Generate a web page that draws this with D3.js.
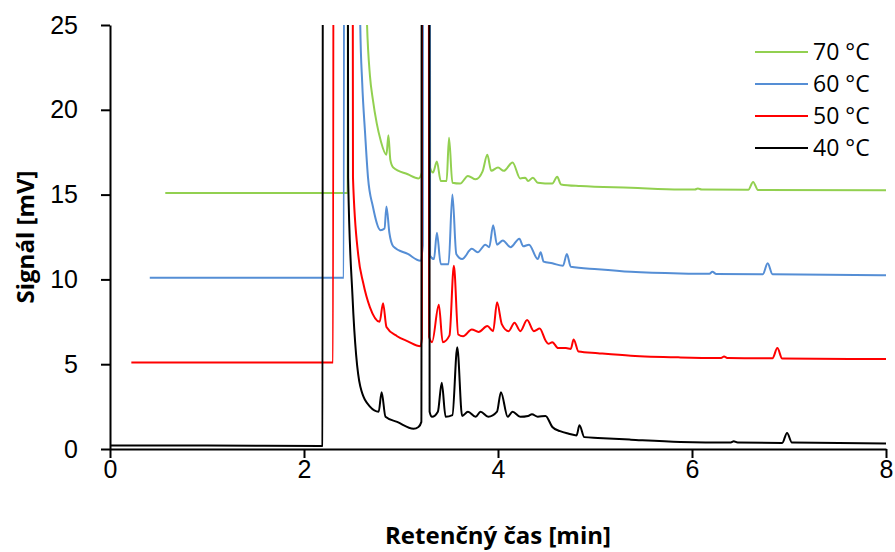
<!DOCTYPE html>
<html>
<head>
<meta charset="utf-8">
<script src="https://cdn.jsdelivr.net/npm/d3@7"></script>
<style>
  body { margin: 0; background: #fff; }
  svg { display: block; font-family: "Open Sans", "Noto Sans", sans-serif; }
  .axis path, .axis line { stroke: #000; stroke-width: 2; }
  .axis text { font-size: 25px; fill: #000; }
  .axis-label { font-size: 24px; font-weight: bold; fill: #000; }
  .legend text { font-size: 23px; fill: #000; }
</style>
</head>
<body>
<div id="chart-area"><svg></svg></div>
<script>
const chartSize = { width: 895, height: 552 };
const margin = { left: 110, right: 9, top: 25, bottom: 103 };
const width = chartSize.width - margin.left - margin.right;
const height = chartSize.height - margin.top - margin.bottom;

const labels = ["70 °C", "60 °C", "50 °C", "40 °C"];
const colors = ["#92D050", "#558ED5", "#FF0000", "#000000"];
const xTicks = [0, 2, 4, 6, 8];
const yTicks = [0, 5, 10, 15, 20, 25];

// [time min, signal mV]; off-scale peaks are clipped at 25
const trace40 = [
  [0, 0.2], [1.0, 0.2], [2.18, 0.18], [2.19, 0.2], [2.2, 90], [2.44, 90], [2.455, 16],
  [2.5, 9.0], [2.58, 3.7], [2.68, 2.5], [2.77, 2.2], [2.8, 3.35], [2.84, 1.9], [2.96, 1.6],
  [3.13, 1.2], [3.18, 1.3], [3.21, 1.6], [3.22, 90], [3.285, 90], [3.295, 2.2], [3.32, 1.9],
  [3.38, 2.2], [3.42, 3.9], [3.46, 1.9], [3.53, 2.0], [3.58, 6.0], [3.63, 1.95], [3.69, 2.2],
  [3.77, 1.9], [3.82, 2.2], [3.9, 1.9], [3.99, 2.2], [4.03, 3.35], [4.1, 1.9], [4.15, 2.2],
  [4.23, 1.9], [4.31, 1.95], [4.35, 2.05], [4.41, 1.9], [4.49, 1.95], [4.56, 1.3], [4.64, 1.05],
  [4.73, 0.9], [4.81, 0.8], [4.84, 1.4], [4.89, 0.7], [5.03, 0.65], [5.37, 0.55], [5.88, 0.42],
  [6.4, 0.38], [6.43, 0.45], [6.47, 0.38], [6.93, 0.36], [6.98, 0.95], [7.03, 0.38], [8.0, 0.33]
];
const trace50 = [
  [0.22, 5.1], [1.3, 5.1], [2.3, 5.1], [2.31, 90], [2.49, 90], [2.505, 16], [2.56, 11.4],
  [2.61, 9.8], [2.68, 8.35], [2.78, 7.5], [2.815, 8.6], [2.85, 7.2], [2.96, 6.65], [3.07, 6.35],
  [3.2, 6.06], [3.215, 6.5], [3.22, 90], [3.28, 90], [3.29, 6.6], [3.32, 6.3], [3.39, 8.5],
  [3.43, 6.3], [3.5, 6.7], [3.545, 10.8], [3.59, 6.75], [3.64, 6.65], [3.73, 7.05], [3.8, 6.9],
  [3.89, 7.25], [3.95, 6.95], [3.99, 8.65], [4.04, 7.35], [4.11, 6.95], [4.17, 7.45], [4.23, 6.95],
  [4.3, 7.6], [4.37, 6.95], [4.43, 7.1], [4.49, 6.4], [4.52, 6.2], [4.56, 6.3], [4.62, 5.95],
  [4.7, 5.95], [4.75, 5.9], [4.78, 6.45], [4.83, 5.75], [5.03, 5.65], [5.37, 5.5], [5.88, 5.4],
  [6.3, 5.37], [6.33, 5.45], [6.37, 5.36], [6.83, 5.35], [6.88, 5.95], [6.93, 5.33], [8.0, 5.3]
];
const trace60 = [
  [0.41, 10.1], [1.5, 10.1], [2.41, 10.1], [2.42, 90], [2.555, 90], [2.57, 30], [2.58, 25],
  [2.6, 21.6], [2.63, 18.6], [2.66, 16.0], [2.71, 14.3], [2.79, 12.9], [2.83, 13.0], [2.85, 14.3],
  [2.88, 12.75], [2.92, 11.95], [3.07, 11.5], [3.2, 11.1], [3.225, 12], [3.23, 90], [3.29, 90],
  [3.3, 11.4], [3.34, 11.2], [3.37, 12.75], [3.41, 10.9], [3.49, 10.9], [3.53, 15.0], [3.57, 11.5],
  [3.63, 11.2], [3.73, 11.8], [3.79, 11.6], [3.87, 12.05], [3.91, 11.9], [3.95, 13.2], [3.99, 12.05],
  [4.05, 12.3], [4.13, 11.9], [4.22, 12.4], [4.26, 11.95], [4.32, 12.05], [4.41, 11.2], [4.44, 11.6],
  [4.47, 11.05], [4.56, 10.95], [4.67, 10.8], [4.71, 11.5], [4.75, 10.75], [5.03, 10.6], [5.37, 10.45],
  [5.88, 10.35], [6.18, 10.33], [6.21, 10.45], [6.25, 10.32], [6.73, 10.3], [6.78, 10.95],
  [6.83, 10.3], [8.0, 10.25]
];
const trace70 = [
  [0.57, 15.1], [1.5, 15.1], [2.45, 15.1], [2.46, 90], [2.62, 90], [2.64, 27], [2.65, 25],
  [2.68, 22], [2.71, 20.6], [2.75, 19.2], [2.79, 18.2], [2.85, 17.35], [2.87, 18.5], [2.89, 17.05],
  [2.92, 16.6], [3.07, 16.2], [3.18, 15.95], [3.215, 16.3], [3.22, 90], [3.29, 90], [3.3, 16.6],
  [3.33, 16.3], [3.37, 16.95], [3.41, 15.8], [3.47, 15.8], [3.495, 18.35], [3.53, 15.7], [3.61, 15.65],
  [3.69, 16.1], [3.77, 15.9], [3.84, 16.35], [3.89, 17.35], [3.93, 16.4], [4.0, 16.6], [4.06, 16.4],
  [4.15, 16.9], [4.23, 15.95], [4.28, 16.0], [4.31, 15.8], [4.36, 16.0], [4.41, 15.7], [4.56, 15.65],
  [4.61, 16.05], [4.65, 15.6], [4.85, 15.5], [5.37, 15.4], [5.88, 15.3], [6.03, 15.3], [6.06, 15.36],
  [6.1, 15.3], [6.58, 15.28], [6.63, 15.75], [6.68, 15.27], [8.0, 15.25]
];
const traces = [trace70, trace60, trace50, trace40];

const x = d3.scaleLinear().domain([0, 8]).range([0, width]);
const y = d3.scaleLinear().domain([0, 25]).range([height, 0]);

const svg = d3
  .select("#chart-area svg")
  .attr("width", chartSize.width)
  .attr("height", chartSize.height);

const g = svg
  .append("g")
  .attr("transform", `translate(${margin.left},${margin.top})`);

g.append("clipPath")
  .attr("id", "plot-clip")
  .append("rect")
  .attr("x", -2)
  .attr("y", 0)
  .attr("width", width + 4)
  .attr("height", height + 2);

const line = d3
  .line()
  .x(d => x(d[0]))
  .y(d => y(d[1]))
  .curve(d3.curveMonotoneX);

// green first, black last so black sits on top
g.append("g")
  .attr("clip-path", "url(#plot-clip)")
  .selectAll("path")
  .data(traces.map((t, i) => ({ t, c: colors[i] })))
  .join("path")
  .attr("fill", "none")
  .attr("stroke", d => d.c)
  .attr("stroke-width", 2)
  .attr("stroke-linejoin", "round")
  .attr("d", d => line(d.t));

const yAxis = d3.axisLeft(y).tickValues(yTicks).tickSize(9).tickSizeOuter(0).tickPadding(23);
g.append("g").attr("class", "axis").call(yAxis);

const xAxis = d3.axisBottom(x).tickValues(xTicks).tickSize(9).tickSizeOuter(0).tickPadding(2);
g.append("g")
  .attr("class", "axis")
  .attr("transform", `translate(0,${height})`)
  .call(xAxis);

g.append("text")
  .attr("class", "axis-label")
  .attr("text-anchor", "middle")
  .attr("x", width / 2)
  .attr("y", height + 95)
  .text("Retenčný čas [min]");

g.append("text")
  .attr("class", "axis-label")
  .attr("text-anchor", "middle")
  .attr("transform", "rotate(-90)")
  .attr("x", -height / 2)
  .attr("y", -76)
  .text("Signál [mV]");

const legend = svg
  .append("g")
  .attr("class", "legend")
  .selectAll("g")
  .data(labels)
  .join("g")
  .attr("transform", (d, i) => `translate(755,${52 + i * 32})`);

legend
  .append("line")
  .attr("x1", 0)
  .attr("x2", 53)
  .attr("stroke", (d, i) => colors[i])
  .attr("stroke-width", 2);

legend
  .append("text")
  .attr("x", 58)
  .attr("dy", "0.35em")
  .text(d => d);
</script>
</body>
</html>
